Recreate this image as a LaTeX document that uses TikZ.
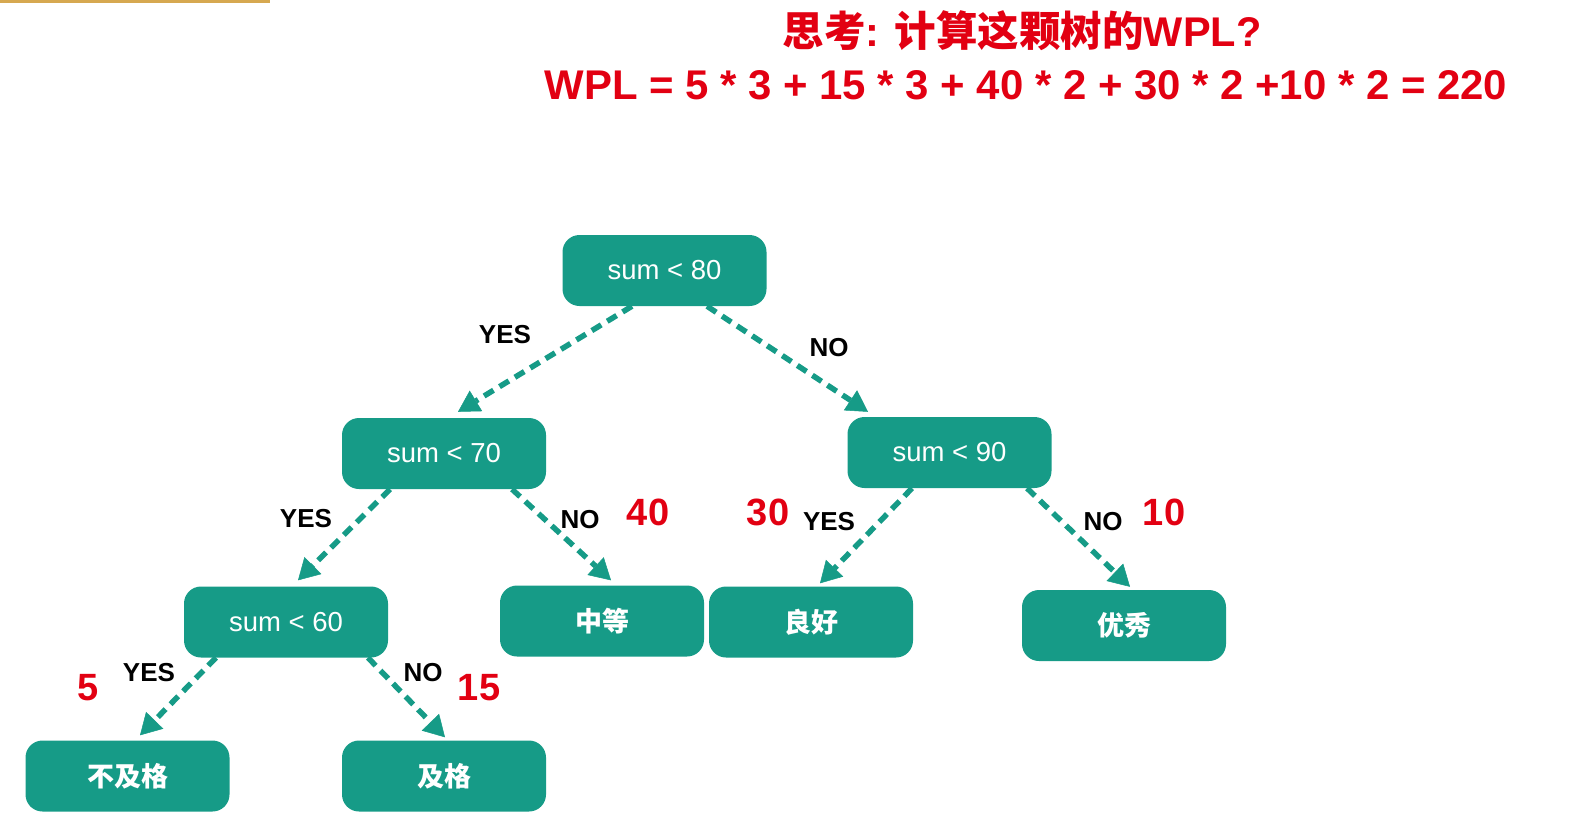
\documentclass[tikz,border=0pt]{standalone}
\usepackage{fontspec}
\setmainfont{Liberation Sans}
\newfontfamily\cjk{Noto Sans CJK SC}
\usetikzlibrary{arrows.meta,calc}
\definecolor{tealA}{RGB}{22,155,135}
\definecolor{redA}{RGB}{226,0,18}
\definecolor{goldA}{RGB}{214,168,80}
\begin{document}
\begin{tikzpicture}[x=1pt,y=-1pt,
  box/.style={fill=tealA, rounded corners=17pt, minimum width=204pt, minimum height=71pt, inner sep=0pt, text=white, font=\fontsize{27.5}{30}\selectfont},
  cbox/.style={box, font=\fontsize{27}{30}\selectfont\cjk\bfseries},
  edge/.style={draw=tealA, line width=5.5pt, dash pattern=on 11pt off 7pt, -{Triangle[length=21pt,width=24pt,line width=0.5pt]}},
  lab/.style={font=\fontsize{26}{30}\selectfont\bfseries, inner sep=0pt},
  num/.style={font=\fontsize{38}{44}\selectfont\bfseries, text=redA, inner sep=0pt},
  ttl/.style={font=\fontsize{41.5}{48}\selectfont\bfseries, text=redA, inner sep=0pt}]
\useasboundingbox (0,0) rectangle (1570,814);
\fill[goldA] (0,0) rectangle (270,2.5);
% titles
\node[ttl] (t1) at (1022,31) {{\cjk 思考}: {\cjk 计算这颗树的}WPL?};
\node[ttl, xscale=1.01] (t2) at (1026,85) {WPL = 5 * 3 + 15 * 3 + 40 * 2 + 30 * 2 +10 * 2 = 220};
% boxes
\node[box] (r) at (664.5,270.5) {sum < 80};
\node[box] (n70) at (444,453.5) {sum < 70};
\node[box] (n90) at (949.5,452.5) {sum < 90};
\node[box] (n60) at (286,622) {sum < 60};
\node[cbox] (zd) at (602,621) {中等};
\node[cbox] (lh) at (811,622) {良好};
\node[cbox] (yx) at (1124,625.5) {优秀};
\node[cbox] (bjg) at (127.5,776) {不及格};
\node[cbox] (jg) at (444,776) {及格};
% edges
\draw[edge] ($(r.south)+(-32.5,0)$) -- ($(n70.north)+(14,-6)$);
\draw[edge] ($(r.south)+(42.5,0)$) -- ($(n90.north)+(-81.5,-5)$);
\draw[edge] ($(n70.south)+(-54,0)$) -- ($(n60.north)+(12,-6)$);
\draw[edge] ($(n70.south)+(68,0)$) -- ($(zd.north)+(9,-5)$);
\draw[edge] ($(n90.south)+(-37.5,0)$) -- ($(lh.north)+(9,-3)$);
\draw[edge] ($(n90.south)+(77.5,0)$) -- ($(yx.north)+(6,-3)$);
\draw[edge] ($(n60.south)+(-70,0)$) -- ($(bjg.north)+(12.5,-5)$);
\draw[edge] ($(n60.south)+(82,0)$) -- ($(jg.north)+(1,-3)$);
% labels
\node[lab] (l1) at (505,335) {YES};
\node[lab] (l2) at (829,348) {NO};
\node[lab] (l3) at (306,519) {YES};
\node[lab] (l4) at (580,520) {NO};
\node[lab] (l5) at (829,522) {YES};
\node[lab] (l6) at (1103,522) {NO};
\node[lab] (l7) at (149,673) {YES};
\node[lab] (l8) at (423,673) {NO};
\node[num] (v40) at (648,512) {40};
\node[num] (v30) at (768,512) {30};
\node[num] (v10) at (1164,512) {10};
\node[num] (v5) at (88,688) {5};
\node[num] (v15) at (479,688) {15};
\end{tikzpicture}
\end{document}
